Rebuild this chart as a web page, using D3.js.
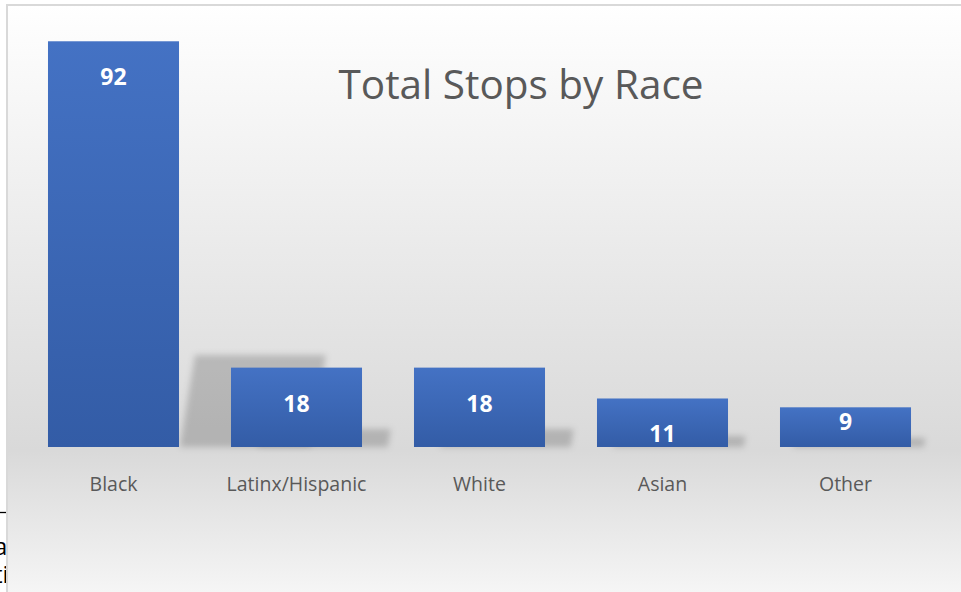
<!DOCTYPE html>
<html>
<head>
<meta charset="utf-8">
<script src="https://cdn.jsdelivr.net/npm/d3@7"></script>
<style>
  html, body { margin: 0; padding: 0; background: #ffffff; overflow: hidden; }
  svg { display: block; }
</style>
</head>
<body>
<svg id="chart" width="961" height="592"></svg>
<script>
// Total stops by race
const categories = ["Black", "Latinx/Hispanic", "White", "Asian", "Other"];
const stops = [92, 18, 18, 11, 9];
const yDomain = [0, 100];
const titleText = "Total Stops by Race";

const W = 961, H = 592;
const svg = d3.select("#chart");
const defs = svg.append("defs");

// Stray text from the surrounding page, left of the chart frame
const page = svg.append("g").style("font-family", "'Open Sans', sans-serif");
page.append("line").attr("x1", 0).attr("x2", 7).attr("y1", 512.5).attr("y2", 512.5)
  .attr("stroke", "#000").attr("stroke-width", 1.3);
page.append("text").attr("x", -6).attr("y", 555).attr("font-size", 24)
  .attr("fill", "#000").text("a");
page.append("text").attr("x", -6).attr("y", 583).attr("font-size", 24)
  .attr("fill", "#000").text("ti");

// Chart frame with soft vertical gradient
const bg = defs.append("linearGradient").attr("id", "bgGrad")
  .attr("x1", 0).attr("y1", 0).attr("x2", 0).attr("y2", 1);
bg.append("stop").attr("offset", 0).attr("stop-color", "#ffffff");
bg.append("stop").attr("offset", 0.74).attr("stop-color", "#d9d9d9");
bg.append("stop").attr("offset", 1).attr("stop-color", "#f8f8f8");

svg.append("rect")
  .attr("x", 7).attr("y", 5).attr("width", W + 20).attr("height", H + 10)
  .attr("fill", "url(#bgGrad)")
  .attr("stroke", "#d9d9d9").attr("stroke-width", 2);

// Bar gradient
const barGrad = defs.append("linearGradient").attr("id", "barGrad")
  .attr("x1", 0).attr("y1", 0).attr("x2", 0).attr("y2", 1);
barGrad.append("stop").attr("offset", 0).attr("stop-color", "#4472c4");
barGrad.append("stop").attr("offset", 1).attr("stop-color", "#335ca6");

// Shadow blur
defs.append("filter").attr("id", "shadowBlur")
  .attr("x", "-20%").attr("y", "-50%").attr("width", "140%").attr("height", "200%")
  .append("feGaussianBlur").attr("stdDeviation", 3);

// Scales
const x = d3.scaleBand().domain(categories).range([22, 937])
  .paddingInner(0.284).paddingOuter(0.142);
const y = d3.scaleLinear().domain(yDomain).range([447, 6]);

const data = categories.map((c, i) => ({ cat: c, value: stops[i] }));
const base = y(0);

// Perspective shadows cast up and to the right of each bar
const shadowPts = d => {
  const h = base - y(d.value);
  const x0 = x(d.cat), bw = x.bandwidth();
  const offB = 0.325 * h, offT = 0.362 * h, sh = 0.227 * h;
  return [
    [x0 + offB, base], [x0 + bw + offB, base],
    [x0 + bw + offT, base - sh], [x0 + offT, base - sh]
  ].map(p => p.join(",")).join(" ");
};
svg.append("g").attr("filter", "url(#shadowBlur)")
  .selectAll("polygon").data(data).join("polygon")
  .attr("points", shadowPts)
  .attr("fill", "#000").attr("fill-opacity", 0.18);

// Bars
svg.append("g").selectAll("rect").data(data).join("rect")
  .attr("x", d => x(d.cat))
  .attr("y", d => y(d.value))
  .attr("width", x.bandwidth())
  .attr("height", d => base - y(d.value))
  .attr("fill", "url(#barGrad)");

// Value labels inside bar ends
svg.append("g").selectAll("text").data(data).join("text")
  .attr("x", d => x(d.cat) + x.bandwidth() / 2)
  .attr("y", d => {
    const h = base - y(d.value);
    return y(d.value) + (h >= 47 ? 44 : 23);
  })
  .attr("text-anchor", "middle")
  .attr("fill", "#ffffff")
  .style("font-family", "'Open Sans', sans-serif")
  .style("font-weight", 700)
  .style("font-size", "23px")
  .text(d => d.value);

// Category axis (labels only)
const xAxis = svg.append("g").attr("transform", `translate(0,${base})`)
  .call(d3.axisBottom(x).tickSize(0).tickPadding(30));
xAxis.select(".domain").remove();
xAxis.selectAll("text")
  .attr("fill", "#595959")
  .style("font-family", "'Open Sans', sans-serif")
  .style("font-size", "19.5px");

// Title
svg.append("text")
  .attr("x", 521).attr("y", 99)
  .attr("text-anchor", "middle")
  .attr("fill", "#595959")
  .attr("textLength", 365).attr("lengthAdjust", "spacingAndGlyphs")
  .style("font-family", "'Open Sans', sans-serif")
  .style("font-size", "40px")
  .text(titleText);
</script>
</body>
</html>
